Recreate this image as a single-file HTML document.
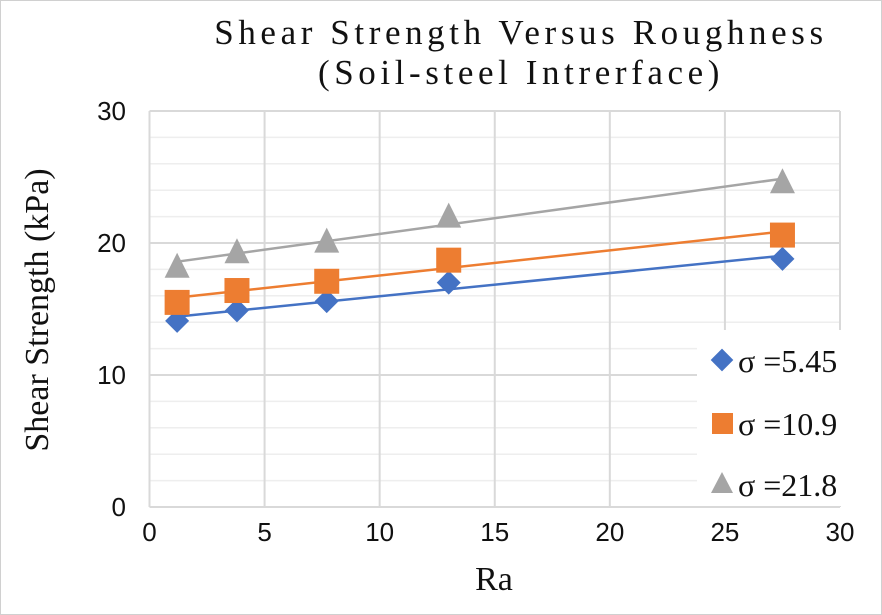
<!DOCTYPE html>
<html><head><meta charset="utf-8"><style>
html,body{margin:0;padding:0;background:#fff;}
svg{display:block;}
</style></head><body>
<svg id="chart" width="882" height="615" xmlns="http://www.w3.org/2000/svg">
<rect x="0.5" y="0.5" width="881" height="614" fill="#fff" stroke="#d0d0d0"/>
<text x="521" y="44" text-anchor="middle" font-family="Liberation Serif, serif" font-size="35" letter-spacing="4.6" fill="#111">Shear Strength Versus Roughness</text>
<text x="521" y="84" text-anchor="middle" font-family="Liberation Serif, serif" font-size="35" letter-spacing="4.6" fill="#111">(Soil-steel Intrerface)</text>
<g id="grid"></g><g id="axes"></g><g id="series"></g>
<rect x="697" y="330" width="181" height="176" fill="#fff"/>
<g>
<rect x="714" y="352" width="16" height="16" transform="rotate(45 722 360)" fill="#4472c4"/>
<text x="738" y="372" font-family="Liberation Serif, serif" font-size="32" fill="#111">σ =5.45</text></g>
<g>
<rect x="712" y="413" width="21" height="21" fill="#ed7d31"/>
<text x="738" y="435" font-family="Liberation Serif, serif" font-size="32" fill="#111">σ =10.9</text></g>
<g>
<polygon points="722,472 733,493 711,493" fill="#a5a5a5"/>
<text x="738" y="496" font-family="Liberation Serif, serif" font-size="32" fill="#111">σ =21.8</text></g>
<text x="48" y="310" text-anchor="middle" transform="rotate(-90 48 310)" font-family="Liberation Serif, serif" font-size="34" fill="#111">Shear Strength (kPa)</text>
<text x="494" y="590" text-anchor="middle" font-family="Liberation Serif, serif" font-size="34" fill="#111">Ra</text>
</svg>
<script>
const xValues=[1.2,3.8,7.7,13,27.5];
const s1=[14.1,14.9,15.6,17.0,18.8];
const s2=[15.5,16.4,17.1,18.7,20.6];
const s3=[18.2,19.3,20.1,22.0,24.6];
const xTicks=[0,5,10,15,20,25,30];
const yTicks=[0,10,20,30];
const ns='http://www.w3.org/2000/svg';
const X=v=>149.5+v*(840-149.5)/30;
const Y=v=>507-v*(507-111)/30;
function mk(p,t,a){const e=document.createElementNS(ns,t);for(const k in a)e.setAttribute(k,a[k]);p.appendChild(e);return e;}
const grid=document.getElementById('grid'),axes=document.getElementById('axes'),ser=document.getElementById('series');
for(let v=2;v<30;v+=2){if(v%10===0)continue;
const l=mk(grid,'line',{x1:X(0),x2:X(30),y1:Y(v),y2:Y(v),stroke:'#eeeeee','stroke-width':1.5});

}
xTicks.forEach(v=>{const l=mk(grid,'line',{x1:X(v),x2:X(v),y1:Y(0),y2:Y(30),stroke:'#d9d9d9','stroke-width':2});


const t=mk(axes,'text',{x:X(v),y:541,'text-anchor':'middle','font-family':'Liberation Sans, sans-serif','font-size':26,fill:'#111'});t.textContent=v;

});
yTicks.forEach(v=>{const l=mk(grid,'line',{x1:X(0),x2:X(30),y1:Y(v),y2:Y(v),stroke:'#d9d9d9','stroke-width':2});


const t=mk(axes,'text',{x:126,y:Y(v)+9,'text-anchor':'end','font-family':'Liberation Sans, sans-serif','font-size':26,fill:'#111'});t.textContent=v;

});
function fit(ys){const n=xValues.length;let mx=0,my=0;for(let i=0;i<n;i++){mx+=xValues[i];my+=ys[i];}mx/=n;my/=n;let a=0,b=0;for(let i=0;i<n;i++){a+=(xValues[i]-mx)*(ys[i]-my);b+=(xValues[i]-mx)**2;}const m=a/b;return [m,my-m*mx];}
const cfg=[[s1,'#4472c4','diamond','series-5-45'],[s2,'#ed7d31','square','series-10-9'],[s3,'#a5a5a5','triangle','series-21-8']];
cfg.forEach(([ys,c,sh,name])=>{const g=mk(ser,'g',{});


const [m,b]=fit(ys);const x0=xValues[0],x1=xValues[xValues.length-1];
const tl=mk(g,'line',{x1:X(x0),y1:Y(m*x0+b),x2:X(x1),y2:Y(m*x1+b),stroke:c,'stroke-width':2.5});


ys.forEach((v,i)=>{const cx=X(xValues[i]),cy=Y(v);let e;
if(sh==='diamond')e=mk(g,'polygon',{points:`${cx},${cy-12} ${cx+12},${cy} ${cx},${cy+12} ${cx-12},${cy}`,fill:c});
else if(sh==='square')e=mk(g,'rect',{x:cx-12.5,y:cy-12.5,width:25,height:25,fill:c});
else e=mk(g,'polygon',{points:`${cx},${cy-14} ${cx+12.5},${cy+11} ${cx-12.5},${cy+11}`,fill:c});

});});
</script>
</body></html>
